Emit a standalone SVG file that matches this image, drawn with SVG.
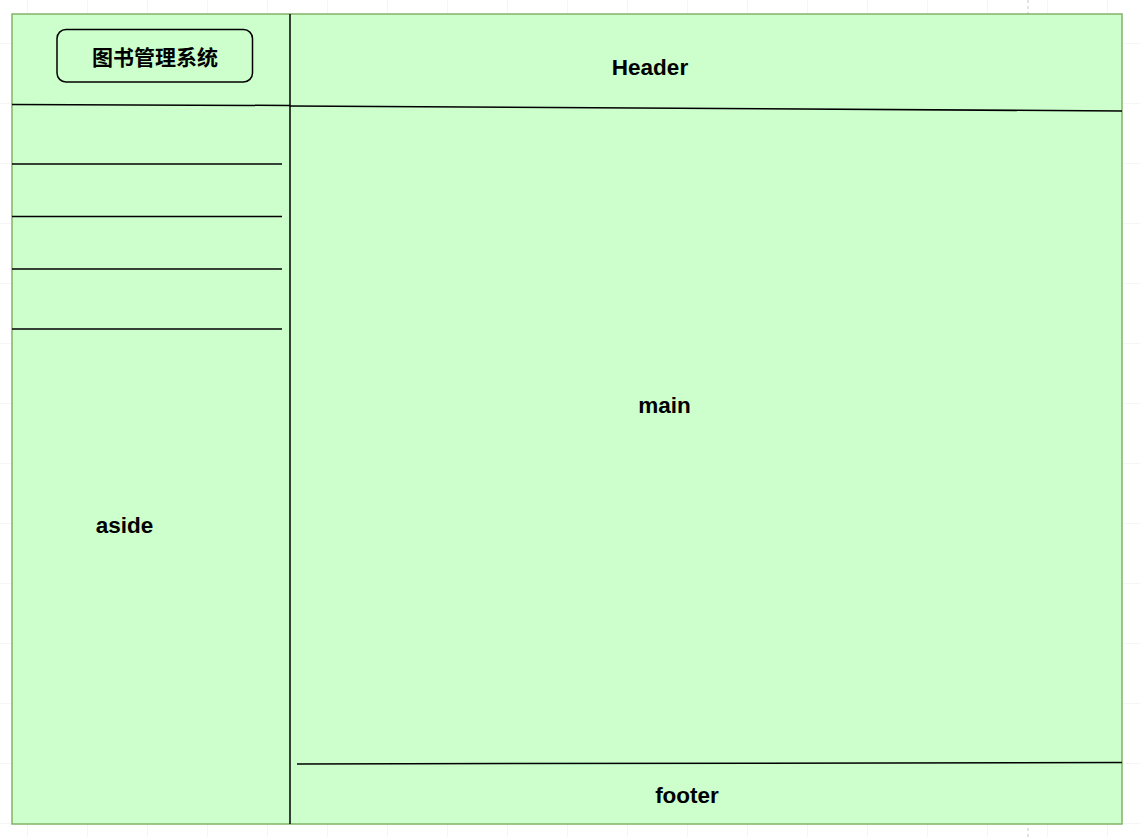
<svg xmlns="http://www.w3.org/2000/svg" width="1140" height="837" viewBox="0 0 1140 837">
  <defs>
    <pattern id="grid" x="27" y="43" width="60" height="60" patternUnits="userSpaceOnUse">
      <path d="M0 0H60M0 0V60" fill="none" stroke="#ebebeb" stroke-width="1"/>
    </pattern>
  </defs>
  <style>
    .frame { fill: #ccffcc; stroke: #82b366; stroke-width: 1.5; }
    .rule { stroke: #000; stroke-width: 1.5; fill: none; }
    .label { font-family: "Liberation Sans", Arial, sans-serif; font-weight: bold; font-size: 22.5px; fill: #000; text-anchor: middle; dominant-baseline: central; }
    .title { font-family: "Liberation Sans", "Noto Sans CJK SC", sans-serif; font-size: 21px; }
    .page-break { stroke: #c8c8c8; stroke-width: 1; stroke-dasharray: 3 3; }
  </style>

  <!-- canvas -->
  <rect width="1140" height="837" fill="#ffffff"/>
  <rect width="1140" height="837" fill="url(#grid)"/>
  <line class="page-break" x1="1028" y1="0" x2="1028" y2="837"/>

  <!-- page frame -->
  <g id="layout">
    <rect class="frame" x="12" y="14" width="1110" height="810"/>
  </g>

  <g id="connectors">
    <line class="rule" x1="290" y1="14" x2="290" y2="824"/>
    <line class="rule" x1="12" y1="104.5" x2="290" y2="105.5"/>
    <line class="rule" x1="290" y1="106" x2="1122" y2="111"/>
    <line class="rule" x1="12" y1="164" x2="282" y2="164"/>
    <line class="rule" x1="12" y1="216.5" x2="282" y2="216.5"/>
    <line class="rule" x1="12" y1="269" x2="282" y2="269"/>
    <line class="rule" x1="12" y1="329" x2="282" y2="329"/>
    <line class="rule" x1="297" y1="764" x2="1122" y2="762.5"/>
  </g>

  <g id="title">
    <rect x="57" y="29.5" width="195.5" height="52.5" rx="9" ry="9" fill="#ccffcc" stroke="#000" stroke-width="1.5"/>
    <text class="label title" x="155" y="57">图书管理系统</text>
  </g>

  <g id="header">
    <text class="label" x="650" y="67">Header</text>
  </g>

  <g id="main">
    <text class="label" x="664.5" y="405">main</text>
  </g>

  <g id="aside">
    <text class="label" x="124.5" y="525">aside</text>
  </g>

  <g id="footer">
    <text class="label" x="687" y="795">footer</text>
  </g>
</svg>
